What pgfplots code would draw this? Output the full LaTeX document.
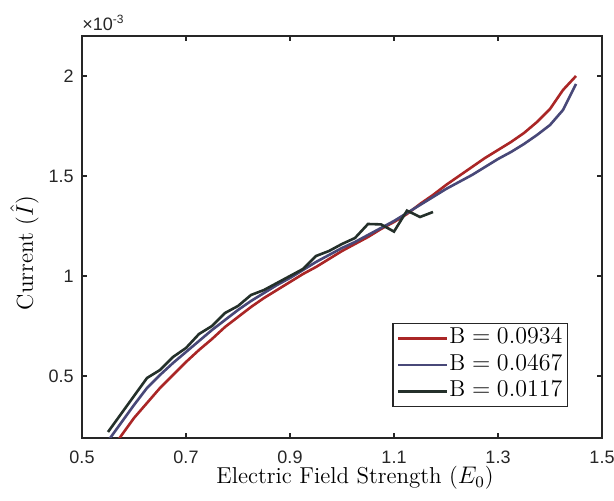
\documentclass[border=0pt]{standalone}
\usepackage{fontspec}
\usepackage{pgfplots}
\pgfplotsset{compat=1.18}
\newfontfamily\tickfont{Liberation Sans}
\definecolor{cred}{RGB}{170,38,38}
\definecolor{cblue}{RGB}{72,72,120}
\definecolor{cblack}{RGB}{36,48,42}
\definecolor{axgray}{RGB}{38,38,38}
\begin{document}
\begin{tikzpicture}
\begin{axis}[
    scale only axis,
    width=260pt, height=201pt,
    xmin=0.5, xmax=1.5,
    ymin=0.19, ymax=2.2,
    xtick={0.5,0.7,0.9,1.1,1.3,1.5},
    xticklabels={0.5,0.7,0.9,1.1,1.3,1.5},
    ytick={0.5,1,1.5,2},
    yticklabels={0.5,1,1.5,2},
    tick align=inside,
    major tick length=2.6pt,
    axis line style={axgray, line width=0.7pt},
    tick style={axgray, line width=0.7pt},
    ticklabel style={font=\tickfont\fontsize{9}{10}\selectfont, text=axgray},
    xticklabel style={anchor=base, inner sep=0pt, yshift=-12.9pt},
    yticklabel style={anchor=east, inner sep=0pt, xshift=-4pt},
    xlabel={Electric Field Strength ($E_0$)},
    ylabel={Current ($\hat{I}$)},
    label style={font=\fontsize{11.5}{13}\selectfont},
    xlabel style={at={([xshift=6.5pt,yshift=-23pt]axis description cs:0.5,0)}, anchor=base, inner sep=0pt},
    ylabel style={at={([xshift=-24.5pt,yshift=-8pt]axis description cs:0,0.5)}, anchor=base, inner sep=0pt},
    legend style={at={(rel axis cs:1,0)}, anchor=south east, xshift=-17pt, yshift=15.5pt,
        font=\fontsize{11.5}{13}\selectfont, draw=axgray, line width=0.7pt,
        nodes={inner sep=0.5pt, text height=8pt, text depth=2.8pt},
        inner xsep=2pt, inner ysep=1.5pt, row sep=1.5pt,
        /tikz/every even column/.append style={column sep=0pt}},
    legend cell align=left,
    legend image code/.code={\draw[#1, line width=1.3pt] (0pt,0pt) -- (24.5pt,0pt);},
    every axis plot/.append style={line width=1.3pt},
]
\addplot[cred] coordinates {
(0.55,0.105) (0.575,0.20) (0.60,0.29) (0.625,0.365) (0.65,0.44) (0.675,0.505)
(0.70,0.57) (0.725,0.63) (0.75,0.685) (0.775,0.745) (0.80,0.795) (0.825,0.845)
(0.85,0.89) (0.875,0.93) (0.90,0.97) (0.925,1.01) (0.95,1.045) (0.975,1.085)
(1.00,1.125) (1.025,1.16) (1.05,1.195) (1.075,1.235) (1.10,1.27) (1.125,1.31)
(1.15,1.36) (1.175,1.405) (1.2,1.455) (1.225,1.50) (1.25,1.545) (1.275,1.59)
(1.3,1.63) (1.325,1.67) (1.35,1.715) (1.375,1.77) (1.40,1.835) (1.425,1.93) (1.45,2.0)
};
\addplot[cblue] coordinates {
(0.55,0.175) (0.575,0.265) (0.60,0.355) (0.625,0.44) (0.65,0.505) (0.675,0.565)
(0.70,0.62) (0.725,0.675) (0.75,0.73) (0.775,0.78) (0.80,0.83) (0.825,0.875)
(0.85,0.915) (0.875,0.955) (0.90,0.99) (0.925,1.03) (0.95,1.07) (0.975,1.105)
(1.00,1.14) (1.025,1.17) (1.05,1.205) (1.075,1.24) (1.10,1.275) (1.125,1.315)
(1.15,1.355) (1.175,1.395) (1.2,1.435) (1.225,1.47) (1.25,1.505) (1.275,1.545)
(1.3,1.585) (1.325,1.62) (1.35,1.66) (1.375,1.705) (1.40,1.755) (1.425,1.83) (1.45,1.96)
};
\addplot[cblack] coordinates {
(0.55,0.22) (0.575,0.31) (0.60,0.40) (0.625,0.49) (0.65,0.53) (0.675,0.595)
(0.70,0.64) (0.725,0.71) (0.75,0.75) (0.775,0.815) (0.80,0.85) (0.825,0.905)
(0.85,0.93) (0.875,0.965) (0.90,1.00) (0.925,1.035) (0.95,1.10) (0.975,1.125)
(1.00,1.16) (1.025,1.19) (1.05,1.26) (1.075,1.258) (1.10,1.222) (1.125,1.327)
(1.15,1.295) (1.175,1.32)
};
\legend{$\mathrm{B} = 0.0934$, $\mathrm{B} = 0.0467$, $\mathrm{B} = 0.0117$}
\end{axis}
\node[anchor=base west, inner sep=0pt, text=axgray, font=\tickfont\fontsize{9}{10}\selectfont] at (0pt,203.5pt) {×10\textsuperscript{-3}};
\pgfresetboundingbox
\path (-41pt,-31.5pt) rectangle (266pt,219pt);
\end{tikzpicture}
\end{document}
